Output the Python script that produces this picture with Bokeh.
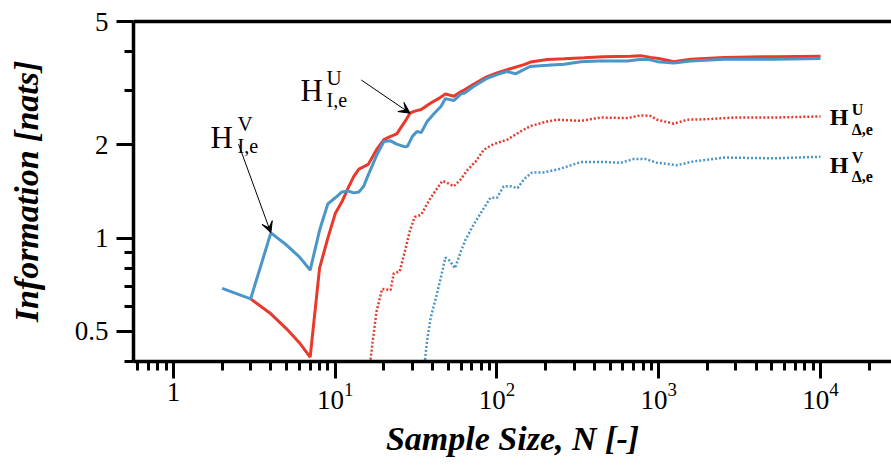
from bokeh.plotting import figure
from bokeh.models import (Range1d, FixedTicker, LogAxis, LogTickFormatter,
                          CustomJSTickFormatter, Label, Arrow, VeeHead)
from bokeh.embed import file_html
from bokeh.resources import INLINE

# --- information estimates versus sample size -------------------------------
# H_I,e^V (blue, solid)
n_iv = [2, 3, 4, 5, 6, 7, 8, 9, 10, 11, 12, 13, 14, 15, 16, 17, 18, 19, 20,
        22, 24, 27, 28, 30, 32, 34, 37, 41, 45, 48, 54, 60, 63, 72, 87, 100,
        115, 130, 160, 205, 260, 330, 420, 640, 780, 890, 980, 1240, 1580,
        2540, 5200, 10000]
h_iv = [0.689, 0.637, 1.04, 0.95, 0.87, 0.789, 1.06, 1.29, 1.35, 1.41, 1.42,
        1.40, 1.41, 1.47, 1.60, 1.72, 1.85, 1.95, 2.05, 2.06, 2.01, 1.97, 1.98,
        2.13, 2.21, 2.19, 2.38, 2.53, 2.66, 2.82, 2.78, 2.92, 2.94, 3.09, 3.28,
        3.37, 3.45, 3.39, 3.58, 3.61, 3.64, 3.71, 3.73, 3.73, 3.78, 3.76, 3.71,
        3.67, 3.73, 3.78, 3.78, 3.80]

# H_I,e^U (red, solid)
n_iu = [3, 4, 5, 6, 7, 8, 9, 10, 11, 12, 13, 14, 16, 18, 20, 22, 24, 27, 29,
        31, 34, 39, 44, 48, 54, 60, 63, 72, 87, 100, 121, 147, 161, 205, 260,
        346, 455, 670, 775, 890, 1000, 1240, 1580, 2540, 5200, 10000]
h_iu = [0.637, 0.57, 0.51, 0.46, 0.413, 0.80, 1.00, 1.20, 1.31, 1.45, 1.58,
        1.67, 1.73, 1.93, 2.08, 2.13, 2.17, 2.38, 2.53, 2.57, 2.60, 2.73, 2.83,
        2.92, 2.87, 2.97, 3.01, 3.14, 3.32, 3.41, 3.52, 3.63, 3.70, 3.77, 3.79,
        3.82, 3.85, 3.86, 3.88, 3.83, 3.80, 3.71, 3.78, 3.83, 3.85, 3.86]

# H_Delta,e^U (red, dotted)
n_du = [16, 17, 18, 19.5, 22, 23, 25, 27, 29, 31, 34, 37, 40, 46, 49, 54, 60,
        65, 74, 83, 95, 116, 140, 161, 205, 236, 330, 437, 640, 775, 890, 980,
        1240, 1500, 1970, 2900, 5200, 10000]
h_du = [0.35, 0.46, 0.58, 0.686, 0.68, 0.77, 0.78, 0.91, 1.06, 1.17, 1.19,
        1.29, 1.38, 1.53, 1.51, 1.47, 1.55, 1.65, 1.77, 1.93, 2.01, 2.08, 2.21,
        2.30, 2.38, 2.41, 2.39, 2.45, 2.44, 2.49, 2.48, 2.41, 2.34, 2.41, 2.42,
        2.45, 2.45, 2.47]

# H_Delta,e^V (blue, dotted)
n_dv = [35, 36, 37, 39, 42, 45, 48, 51, 55, 60, 64, 72, 83, 91, 100, 110, 121,
        134, 147, 165, 195, 242, 330, 480, 580, 700, 830, 980, 1300, 1650,
        2540, 5200, 10000]
h_dv = [0.36, 0.41, 0.47, 0.556, 0.644, 0.747, 0.866, 0.845, 0.80, 0.91, 0.99,
        1.11, 1.25, 1.35, 1.35, 1.47, 1.47, 1.45, 1.55, 1.63, 1.63, 1.67, 1.76,
        1.76, 1.75, 1.80, 1.80, 1.75, 1.72, 1.77, 1.82, 1.81, 1.83]

# axis ticks
x_ticks = [1, 10, 100, 1000, 10000]
x_minor = [0.6, 0.7, 0.8, 0.9] + [m * 10 ** e for e in range(0, 5) for m in range(2, 10)]
y_ticks = [0.5, 1, 2, 5]
y_minor = [0.4, 0.6, 0.7, 0.8, 0.9, 3, 4]

RED = "#e8392c"
BLUE = "#4a96c8"
SERIF = "Liberation Serif"

p = figure(width=891, height=467, x_axis_type="log", y_axis_type="log",
           x_range=Range1d(0.566, 27480), y_range=Range1d(0.4, 5),
           output_backend="svg", toolbar_location=None,
           min_border_left=133, min_border_right=0,
           min_border_top=21, min_border_bottom=106)
p.outline_line_color = None
p.grid.visible = False
p.background_fill_color = "white"
p.border_fill_color = "white"


def style_axis(ax):
    ax.axis_line_width = 3.5
    ax.axis_line_color = "black"
    ax.major_tick_line_width = 3
    ax.minor_tick_line_width = 3
    ax.major_tick_line_color = "black"
    ax.minor_tick_line_color = "black"
    ax.major_tick_in = 0
    ax.major_tick_out = 17
    ax.minor_tick_in = 0
    ax.minor_tick_out = 9
    ax.major_label_text_font = SERIF
    ax.major_label_text_font_size = "27px"
    ax.major_label_text_color = "black"
    ax.axis_label_text_font = SERIF
    ax.axis_label_text_font_style = "bold italic"
    ax.axis_label_text_font_size = "34px"
    ax.axis_label_text_color = "black"


xa = p.xaxis[0]
ya = p.yaxis[0]
style_axis(xa)
style_axis(ya)
xa.ticker = FixedTicker(ticks=x_ticks, minor_ticks=x_minor)
xa.formatter = LogTickFormatter(min_exponent=1)
xa.axis_label = "Sample Size, N [-]"
xa.major_label_standoff = 4
xa.axis_label_standoff = 8

ya.ticker = FixedTicker(ticks=y_ticks, minor_ticks=y_minor)
ya.formatter = CustomJSTickFormatter(code="return tick.toString()")
ya.axis_label = "Information [nats]"
ya.major_label_standoff = 8
ya.axis_label_standoff = 27

# plain top spine
top = LogAxis(ticker=FixedTicker(ticks=[], minor_ticks=[]),
              axis_line_width=3.5, axis_line_color="black",
              major_tick_line_color=None, minor_tick_line_color=None,
              major_label_text_font_size="0px")
p.add_layout(top, "above")

# curves
p.line(n_du, h_du, line_color=RED, line_width=2.5, line_dash="2 2")
p.line(n_dv, h_dv, line_color=BLUE, line_width=2.5, line_dash="2 2")
p.line(n_iu, h_iu, line_color=RED, line_width=3)
p.line(n_iv, h_iv, line_color=BLUE, line_width=3)


def annot(x, y, base, sup, sub, size, sup_size, sub_size, dx, up, down,
          bold=False):
    style = "bold" if bold else "normal"
    common = dict(x=x, y=y, text_font=SERIF, text_font_style=style,
                  text_color="black", text_baseline="alphabetic",
                  text_align="left")
    p.add_layout(Label(text=base, text_font_size=size, **common))
    p.add_layout(Label(text=sup, text_font_size=sup_size, x_offset=dx,
                       y_offset=up, **common))
    p.add_layout(Label(text=sub, text_font_size=sub_size, x_offset=dx,
                       y_offset=-down, **common))


annot(1.694, 2.12, "H", "V", "I,e", "31px", "21px", "20px", 27, 13, 9)
annot(6.10, 2.985, "H", "U", "I,e", "31px", "21px", "20px", 26, 13, 9)
annot(11400, 2.455, "H", "U", "Δ,e", "24px", "16px", "16px", 22, 8, 12, bold=True)
annot(11400, 1.721, "H", "V", "Δ,e", "24px", "16px", "16px", 22, 8, 11, bold=True)

# pointers from the left labels to their curves
iv_pt = n_iv.index(4)
iu_pt = n_iu.index(29)
for xs, ys, xe, ye in [(2.525, 2.011, n_iv[iv_pt], h_iv[iv_pt]),
                       (14.48, 3.238, n_iu[iu_pt], h_iu[iu_pt])]:
    p.add_layout(Arrow(end=VeeHead(size=11, fill_color="black",
                                   line_color="black", line_width=1),
                       x_start=xs, y_start=ys, x_end=xe, y_end=ye,
                       line_color="black", line_width=1))

open("out.html", "w").write(file_html(p, INLINE))
